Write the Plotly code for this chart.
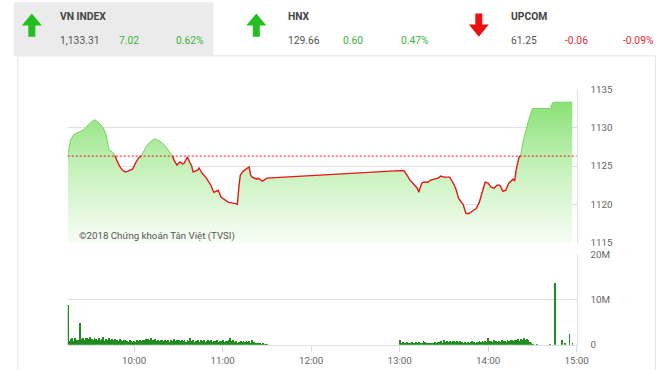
import plotly.graph_objects as go
import pandas as pd

DAY = "2018-10-16 "
REF = 1126.29

price_times = ["09:15","09:17","09:19","09:22","09:26","09:29","09:33","09:36","09:39","09:41",
               "09:43","09:46","09:47","09:48","09:50","09:52","09:54","09:56","09:59","10:01",
               "10:03","10:05","10:08","10:11","10:14","10:17","10:19","10:22","10:24","10:26",
               "10:27","10:29","10:31","10:33","10:34","10:36","10:37","10:39","10:40","10:43",
               "10:44","10:46","10:49","10:52","10:54","10:57","10:59","11:01","11:04","11:08",
               "11:10","11:11","11:12","11:14","11:17","11:18","11:19","11:20","11:23","11:24",
               "11:27","11:29","11:30","13:00","13:03","13:05","13:07","13:09","13:12","13:13",
               "13:15","13:16","13:19","13:21","13:23","13:26","13:28","13:30","13:32","13:34",
               "13:36","13:38","13:40","13:43","13:45","13:47","13:50","13:52","13:54","13:56",
               "13:58","14:00","14:02","14:04","14:06","14:08","14:10","14:12","14:14","14:17",
               "14:18","14:19","14:21","14:22","14:24","14:27","14:30","14:42","14:44","14:57"]
price_values = [1126.40,1128.42,1129.08,1129.34,1129.74,1130.39,1131.05,1130.66,1130.00,1129.08,
                1127.11,1126.71,1126.32,1125.92,1125.00,1124.47,1124.21,1124.34,1124.61,1125.39,
                1126.05,1126.32,1127.50,1128.16,1128.55,1128.29,1128.03,1127.37,1126.90,1126.32,
                1125.79,1125.13,1125.53,1125.26,1125.39,1126.18,1125.79,1125.00,1124.21,1124.47,
                1124.74,1124.08,1123.42,1122.50,1121.58,1121.84,1120.92,1120.66,1120.26,1120.13,
                1120.00,1122.24,1123.82,1124.34,1124.74,1124.87,1123.82,1123.55,1123.29,1123.42,
                1123.03,1123.29,1123.42,1124.40,1124.38,1123.82,1123.16,1122.76,1122.11,1121.58,
                1122.76,1122.89,1122.89,1123.16,1123.29,1123.42,1123.68,1123.55,1123.55,1123.55,
                1122.89,1122.11,1120.79,1120.00,1118.82,1118.82,1119.21,1119.47,1120.26,1121.45,
                1122.89,1122.76,1122.24,1122.11,1122.50,1122.50,1121.71,1121.84,1122.76,1123.29,
                1123.03,1124.47,1126.18,1126.32,1128.42,1130.66,1132.50,1132.50,1133.31,1133.31]

# per-minute volume (millions), morning 09:15-11:30, afternoon 13:00-14:30
vol_morning = [8.8,0.9,1.3,1.6,0.8,1.5,1.2,1.1,4.9,1.4,
               1.6,1.2,1.5,1.6,1.3,1.7,1.4,1.1,1.5,1.3,
               1.0,1.6,1.2,1.3,1.7,0.9,1.4,1.2,1.5,1.1,
               1.3,1.0,1.4,1.2,0.9,1.3,1.1,0.8,1.2,1.0,
               0.9,0.7,1.0,0.8,0.6,0.9,0.7,1.0,0.8,1.1,
               0.9,1.2,1.0,1.4,1.3,1.1,1.5,1.2,1.0,1.3,
               0.9,1.1,0.8,1.2,1.0,0.9,1.1,0.8,1.0,0.7,
               1.1,0.9,1.3,0.8,1.0,1.2,0.9,1.1,0.8,1.0,
               0.7,1.2,0.9,1.5,0.8,1.0,0.6,0.9,1.1,0.7,
               1.0,0.8,1.2,0.7,0.9,1.1,0.8,1.0,0.7,0.9,
               0.8,1.0,0.7,0.9,0.8,1.0,0.7,0.9,0.8,1.0,
               1.6,0.9,1.1,0.6,0.8,0.5,0.7,0.9,0.6,0.8,
               0.7,0.9,0.6,0.8,0.5,1.0,0.6,0.4,0.5,0.3,
               0.4,0.2,0.3,0.2,0.1,0.2]
vol_afternoon = [1.1,0.5,0.6,0.4,0.5,0.6,0.4,0.5,0.7,0.5,0.4,0.6,0.5,0.7,0.4,
                 0.5,0.8,0.6,0.4,0.5,0.3,0.4,0.5,0.4,0.6,0.5,0.7,0.6,0.8,0.5,
                 1.0,0.6,0.8,0.7,0.9,0.6,0.8,0.9,0.7,0.8,0.6,0.9,0.7,0.5,0.6,
                 0.4,0.7,0.5,0.6,0.8,0.6,0.5,0.7,0.6,0.8,0.6,0.9,0.7,0.8,0.6,
                 1.5,0.8,0.9,0.7,1.0,0.8,0.6,0.9,0.7,1.0,0.8,0.9,0.7,1.1,0.9,
                 1.0,1.2,0.8,1.1,1.0,1.3,0.9,1.4,1.2,1.5,1.1,1.4,1.0,0.6,0.3,
                 0.1]
vol_late_times = ["14:33","14:42","14:45","14:50","14:52","14:55","14:57"]
vol_late_values = [0.1,0.15,13.7,1.2,0.5,2.5,0.3]

x_tick_times = ["10:00","11:00","12:00","13:00","14:00","15:00"]
price_ticks = [1115,1120,1125,1130,1135]
vol_ticks = [0, 10e6, 20e6]
vol_tick_labels = ["0", "10M", "20M"]

header = [
    # name, value, change, pct, up?
    ("VN INDEX", "1,133.31", "7.02", "0.62%", True),
    ("HNX", "129.66", "0.60", "0.47%", True),
    ("UPCOM", "61.25", "-0.06", "-0.09%", False),
]

W, H = 660, 370
# page-to-photo compensation measured from previous renders
SX, OX = 0.984, -0.9
SY, OY = 0.9605, 7.6
def px(x):
    return ((x - OX) / SX) / W
def py(y):
    return 1 - ((y - OY) / SY) / H
FS = 1.03
FONT = "Roboto"

px_t = pd.to_datetime([DAY + t for t in price_times])
am_t = pd.date_range(DAY + "09:15", DAY + "11:30", freq="1min")
pm_t = pd.date_range(DAY + "13:00", DAY + "14:30", freq="1min")
vol_t = list(am_t) + list(pm_t) + list(pd.to_datetime([DAY + t for t in vol_late_times]))
vol_v = [v * 1e6 for v in vol_morning + vol_afternoon + vol_late_values]

red_y = [v if v <= REF + 0.05 else None for v in price_values]
green_y = [v if v >= REF - 0.05 else None for v in price_values]

fig = go.Figure()
fig.add_trace(go.Scatter(
    x=px_t, y=price_values, mode="lines", fill="tozeroy",
    line=dict(width=0, color="rgba(0,0,0,0)"),
    fillgradient=dict(type="vertical", start=1115, stop=1134,
                      colorscale=[[0, "rgb(250,254,249)"], [0.5, "rgb(200,242,190)"], [1, "rgb(134,224,112)"]]),
    hoverinfo="skip", xaxis="x", yaxis="y"))
fig.add_trace(go.Scatter(x=px_t, y=green_y, mode="lines",
                         line=dict(width=1, color="rgb(120,210,100)"), connectgaps=False,
                         xaxis="x", yaxis="y"))
fig.add_trace(go.Scatter(x=px_t, y=red_y, mode="lines",
                         line=dict(width=1.4, color="rgb(228,24,24)"), connectgaps=False,
                         xaxis="x", yaxis="y"))
fig.add_trace(go.Bar(x=vol_t, y=vol_v, width=36000,
                     marker=dict(color="rgb(30,140,30)", line=dict(width=0)),
                     xaxis="x2", yaxis="y2"))

xr = [DAY + "09:15", DAY + "15:00"]
xdom = [px(67), px(577)]
grid = "rgb(222,225,228)"
tickfont = dict(family=FONT, size=9.5 * FS, color="#666")

fig.update_layout(
    width=W, height=H, margin=dict(l=0, r=0, t=0, b=0),
    paper_bgcolor="white", plot_bgcolor="rgba(0,0,0,0)", showlegend=False, bargap=0,
    xaxis=dict(domain=xdom, range=xr, type="date", showticklabels=False, showgrid=False,
               zeroline=False, anchor="y"),
    yaxis=dict(domain=[py(242), py(90)], range=[1115, 1135], side="right", tickvals=price_ticks,
               showgrid=True, gridcolor=grid, gridwidth=1, zeroline=False, ticks="",
               ticklabelstandoff=11, tickfont=tickfont, showline=True, linecolor=grid,
               anchor="x"),
    xaxis2=dict(domain=xdom, range=xr, type="date", anchor="y2",
                tickvals=[DAY + t for t in x_tick_times], ticktext=x_tick_times,
                ticks="outside", ticklen=6, tickcolor="rgb(215,220,225)", tickfont=tickfont,
                showgrid=False, zeroline=False, showline=True, linecolor=grid),
    yaxis2=dict(domain=[py(343), py(254)], range=[0, 20e6], side="right", tickvals=vol_ticks,
                ticktext=vol_tick_labels, showgrid=True, gridcolor=grid, zeroline=False,
                ticks="", ticklabelstandoff=11, tickfont=tickfont, showline=True,
                linecolor=grid, anchor="x2"),
)

shapes = [
    dict(type="rect", xref="paper", yref="paper", x0=px(17), x1=px(656), y0=-0.05, y1=py(57),
         line=dict(color="rgb(228,228,228)", width=1), fillcolor="white", layer="below"),
    dict(type="rect", xref="paper", yref="paper", x0=px(13), x1=px(213), y0=py(57), y1=py(4),
         line=dict(width=0), fillcolor="rgb(235,235,235)", layer="below"),
    dict(type="line", xref="x domain", yref="y", x0=0, x1=1, y0=REF, y1=REF,
         line=dict(color="rgb(235,20,20)", width=1, dash="2px,2px")),
]

def arrow_path(cx, up):
    if up:
        pts = [(cx, 15), (cx + 10, 27), (cx + 3.5, 27), (cx + 3.5, 38), (cx - 3.5, 38),
               (cx - 3.5, 27), (cx - 10, 27)]
    else:
        pts = [(cx, 38), (cx + 10, 26), (cx + 3.5, 26), (cx + 3.5, 15), (cx - 3.5, 15),
               (cx - 3.5, 26), (cx - 10, 26)]
    return "M " + " L ".join(f"{px(a):.5f},{py(b):.5f}" for a, b in pts) + " Z"

GREEN_T = "rgb(58,180,58)"
RED_T = "rgb(232,40,48)"
HS = 10.3
anns = []
cols = [(31, 57, 116, 173), (256, 286, 341, 399), (479, 509, 563, 621)]
for (name, val, chg, pct, up), (ax, tx, cx, pcx) in zip(header, cols):
    shapes.append(dict(type="path", xref="paper", yref="paper", path=arrow_path(ax, up),
                       fillcolor="rgb(34,190,34)" if up else "rgb(236,16,16)", line=dict(width=0)))
    col = GREEN_T if up else RED_T
    anns.append(dict(x=px(tx), y=py(18), text=f"<b>{name}</b>", font=dict(family=FONT, size=HS, color="#444")))
    anns.append(dict(x=px(tx), y=py(42), text=val, font=dict(family=FONT, size=HS, color="#555")))
    anns.append(dict(x=px(cx), y=py(42), text=chg, font=dict(family=FONT, size=HS, color=col)))
    anns.append(dict(x=px(pcx), y=py(42), text=pct, font=dict(family=FONT, size=HS, color=col)))
anns.append(dict(x=px(76), y=py(235), text="©2018 Chứng khoán Tân Việt (TVSI)",
                 font=dict(family=FONT, size=9.7, color="#555")))
for a in anns:
    a.update(xref="paper", yref="paper", xanchor="left", yanchor="middle", showarrow=False)

fig.update_layout(shapes=shapes, annotations=anns)
fig.write_html("out.html", config={"displayModeBar": False},
               post_script="document.body.style.margin='0';document.body.style.overflow='hidden';")
